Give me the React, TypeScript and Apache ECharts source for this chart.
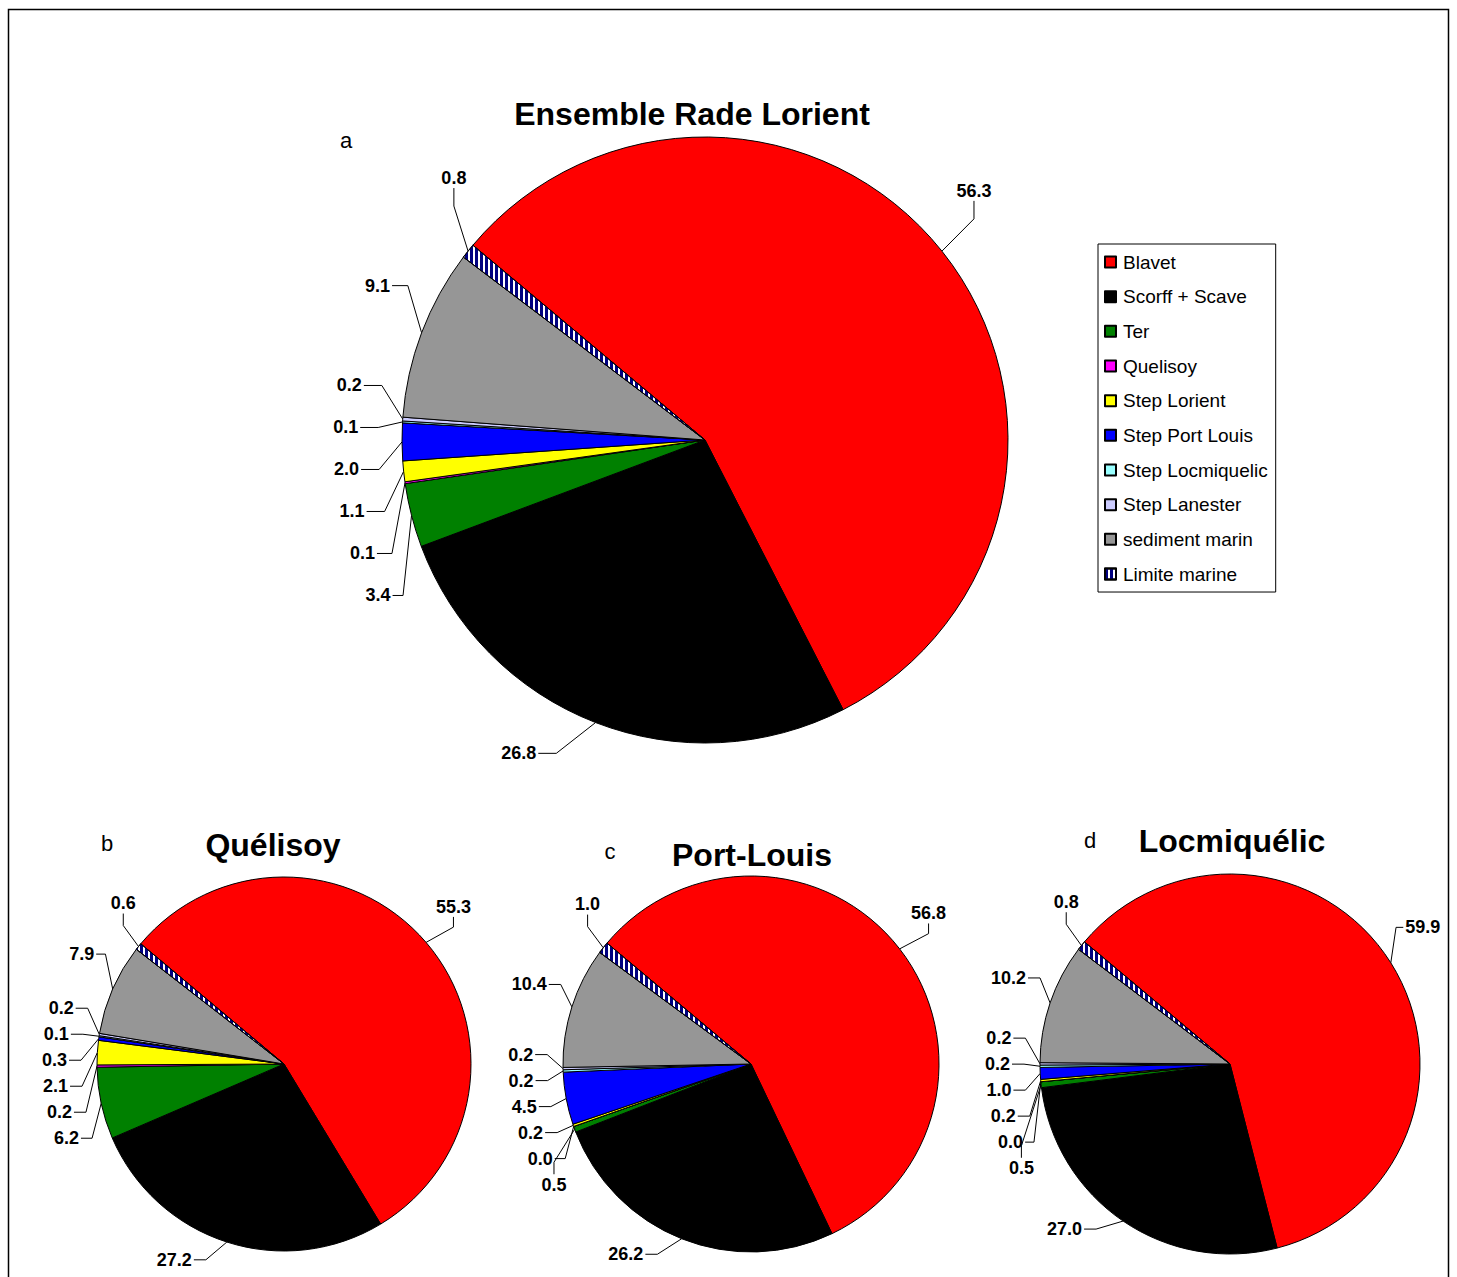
import React, { useEffect, useRef } from "react";
import * as echarts from "echarts";

const categories = [
  "Blavet",
  "Scorff + Scave",
  "Ter",
  "Quelisoy",
  "Step Lorient",
  "Step Port Louis",
  "Step Locmiquelic",
  "Step Lanester",
  "sediment marin",
  "Limite marine",
];
const valuesA = [56.3, 26.8, 3.4, 0.1, 1.1, 2.0, 0.1, 0.2, 9.1, 0.8];
const valuesB = [55.3, 27.2, 6.2, 0.2, 2.1, 0.3, 0.1, 0.2, 7.9, 0.6];
const valuesC = [56.8, 26.2, 0.5, 0.0, 0.2, 4.5, 0.2, 0.2, 10.4, 1.0];
const valuesD = [59.9, 27.0, 0.5, 0.0, 0.2, 1.0, 0.2, 0.2, 10.2, 0.8];
const titles = ["Ensemble Rade Lorient", "Quélisoy", "Port-Louis", "Locmiquélic"];
const letters = ["a", "b", "c", "d"];

const colors = [
  "#FF0000",
  "#000000",
  "#008000",
  "#FF00FF",
  "#FFFF00",
  "#0000FF",
  "#99FFFF",
  "#CCCCFF",
  "#969696",
  "#FFFFFF",
];

const FONT = "Arial, 'Liberation Sans', sans-serif";
const LABEL_FS = 18;
const START_ANGLE = 140; // echarts degrees (ccw from 3 o'clock)

const pies = [
  { values: valuesA, center: [705, 440], radius: 303, gapX: 44, gapY: 44, spacing: 42, tail: 18, sideThr: 20 },
  { values: valuesB, center: [284, 1064], radius: 187, gapX: 30, gapY: 19, spacing: 26, tail: 12, sideThr: 14 },
  { values: valuesC, center: [751, 1064], radius: 188, gapX: 30, gapY: 19, spacing: 26, tail: 12, sideThr: 14 },
  { values: valuesD, center: [1230, 1064], radius: 190, gapX: 30, gapY: 19, spacing: 26, tail: 12, sideThr: 14 },
];

const titlePos = [
  { title: [692, 114], letter: [346, 140] },
  { title: [273, 845], letter: [107, 843] },
  { title: [752, 855], letter: [610, 851] },
  { title: [1232, 841], letter: [1090, 840] },
];

const fmt = (v: number) => v.toFixed(1);

function textWidth(s: string, fs: number) {
  let w = 0;
  for (const ch of s) w += ch === "." ? 0.278 : 0.556;
  return w * fs;
}

const clamp1 = (v: number) => Math.max(-1, Math.min(1, v));
const toRad = (d: number) => (d * Math.PI) / 180;

// Excel-like label placement derived from the slice geometry of each pie
function computeLabelLayout(p: any) {
  const [cx, cy] = p.center;
  const r = p.radius;
  const Rx = r + p.gapX;
  const Ry = r + p.gapY;
  const total = p.values.reduce((a: number, b: number) => a + b, 0);

  const centerX = (phi: number, hw: number) => {
    const s = Math.sin(toRad(phi));
    return cx + Rx * s + hw * clamp1(2 * s);
  };
  const centerY = (phi: number, hh: number) => {
    const c = Math.cos(toRad(phi));
    return cy - Ry * c + hh * clamp1(-2 * c);
  };

  let a = 90 - START_ANGLE; // clockwise from 12 o'clock
  const items = p.values.map((v: number, i: number) => {
    const span = (v / total) * 360;
    const mid = a + span / 2;
    a += span;
    const ux = Math.sin(toRad(mid));
    const uy = -Math.cos(toRad(mid));
    const side = ux >= 0 ? 1 : -1;
    const w = Math.max(0, Math.min(1, (Math.abs(uy) - 0.2) / 0.3));
    const phi = mid + (side < 0 ? 8 : -5) * w;
    const txt = fmt(v);
    const hw = textWidth(txt, LABEL_FS) / 2;
    const hh = (LABEL_FS * 1.15) / 2;
    const lx = centerX(phi, hw);
    const ly = centerY(phi, hh);
    return { i, ux, uy, hw, hh, lx, ly, y0: ly, side };
  });

  [1, -1].forEach((side) => {
    const list = items
      .filter((it: any) => it.side === side)
      .sort((u: any, w: any) => u.y0 - w.y0);
    const s = p.spacing;
    const clusters: any[] = [];
    const pos = (cl: any) => {
      let sum = 0;
      cl.items.forEach((it: any, k: number) => (sum += it.y0 - k * s));
      const mean = sum / cl.items.length;
      return 0.5 * (mean + cl.items[0].y0);
    };
    list.forEach((it: any) => {
      clusters.push({ items: [it], start: it.y0 });
      while (clusters.length > 1) {
        const A = clusters[clusters.length - 2];
        const B = clusters[clusters.length - 1];
        if (A.start + A.items.length * s > B.start) {
          A.items = A.items.concat(B.items);
          A.start = pos(A);
          clusters.pop();
        } else break;
      }
    });
    clusters.forEach((cl) => {
      cl.items.forEach((it: any, k: number) => {
        const yT = cl.start + k * s;
        if (Math.abs(yT - it.y0) < 0.01) return;
        let lo = side === 1 ? 0 : 180;
        let hi = side === 1 ? 180 : 360;
        const increasing = side === 1;
        for (let n = 0; n < 60; n++) {
          const m = (lo + hi) / 2;
          const ym = centerY(m, it.hh);
          if ((ym < yT) === increasing) lo = m;
          else hi = m;
        }
        const phi = (lo + hi) / 2;
        it.ly = centerY(phi, it.hh);
        it.lx = centerX(phi, it.hw);
      });
    });
  });

  return items.map((it: any) => {
    const ex = cx + r * it.ux;
    const ey = cy + r * it.uy;
    const left = it.lx - it.hw;
    const right = it.lx + it.hw;
    const top = it.ly - it.hh;
    const bottom = it.ly + it.hh;
    const dx = ex < left ? left - ex : ex > right ? ex - right : 0;
    const dy = ey < top ? top - ey : ey > bottom ? ey - bottom : 0;
    let S: number[];
    let T: number[];
    if (dx > p.sideThr) {
      const dir = ex < it.lx ? -1 : 1;
      S = [dir < 0 ? left - 2 : right + 2, it.ly];
      const t = Math.min(p.tail, dx * 0.5);
      T = [S[0] + dir * t, it.ly];
    } else {
      const dir = ey < it.ly ? -1 : 1;
      S = [it.lx, dir < 0 ? top : bottom];
      const t = Math.min(p.tail, Math.max(dy * 0.4, 2));
      T = [it.lx, S[1] + dir * t];
    }
    return { x: it.lx, y: it.ly, pts: [[ex, ey], T, S] };
  });
}

function buildData(values: number[]) {
  return values.map((v, i) => {
    const item: any = {
      name: categories[i],
      value: v,
      itemStyle: { color: colors[i], borderColor: "#000", borderWidth: 1 },
    };
    if (categories[i] === "Limite marine") {
      item.itemStyle.decal = {
        symbol: "rect",
        symbolSize: 1,
        color: "#000080",
        dashArrayX: [3, 2],
        dashArrayY: [1, 0],
      };
    }
    return item;
  });
}

export default function App() {
  const ref = useRef<HTMLDivElement>(null);
  useEffect(() => {
    if (!ref.current) return;
    const chart = echarts.init(ref.current, null, { renderer: "svg" });

    const graphics: any[] = [
      {
        type: "rect",
        z: -10,
        shape: { x: 8.5, y: 9.5, width: 1440, height: 1300 },
        style: { fill: "#fff", stroke: "#000", lineWidth: 1.5 },
      },
    ];
    titles.forEach((t, i) => {
      graphics.push({
        type: "text",
        x: titlePos[i].title[0],
        y: titlePos[i].title[1],
        style: {
          text: t,
          font: `bold 32px ${FONT}`,
          fill: "#000",
          align: "center",
          verticalAlign: "middle",
        },
      });
      graphics.push({
        type: "text",
        x: titlePos[i].letter[0],
        y: titlePos[i].letter[1],
        style: {
          text: letters[i],
          font: `22px ${FONT}`,
          fill: "#000",
          align: "center",
          verticalAlign: "middle",
        },
      });
    });

    const layouts = pies.map((p) => computeLabelLayout(p));

    const series = pies.map((p) => ({
      type: "pie",
      center: p.center,
      radius: p.radius,
      startAngle: START_ANGLE,
      clockwise: true,
      avoidLabelOverlap: false,
      data: buildData(p.values),
      label: {
        show: true,
        position: "outside",
        formatter: (params: any) => fmt(Number(params.value)),
        color: "#000",
        fontSize: LABEL_FS,
        fontWeight: "bold",
        fontFamily: FONT,
        overflow: "none",
      },
      labelLine: {
        show: true,
        length: 10,
        length2: 10,
        lineStyle: { color: "#000", width: 1 },
      },
      labelLayout: (params: any) => {
        const L = layouts[params.seriesIndex][params.dataIndex];
        return {
          x: L.x,
          y: L.y,
          align: "center",
          verticalAlign: "middle",
          labelLinePoints: L.pts,
        };
      },
      emphasis: { disabled: true },
    }));

    chart.setOption({
      animation: false,
      backgroundColor: "#fff",
      graphic: graphics,
      legend: {
        show: true,
        orient: "vertical",
        left: 1098,
        top: 244,
        data: categories,
        icon: "rect",
        itemWidth: 11,
        itemHeight: 11,
        itemGap: 14.67,
        padding: [8, 8, 8, 6],
        borderColor: "#000",
        borderWidth: 1,
        backgroundColor: "#fff",
        selectedMode: false,
        textStyle: {
          fontSize: 19,
          fontFamily: FONT,
          color: "#000",
          lineHeight: 20,
          padding: [0, 0, 0, 2],
        },
      },
      series,
    });
    return () => chart.dispose();
  }, []);
  return (
    <div
      ref={ref}
      style={{
        position: "absolute",
        left: 0,
        top: 0,
        width: 1457,
        height: 1277,
        overflow: "hidden",
      }}
    />
  );
}
